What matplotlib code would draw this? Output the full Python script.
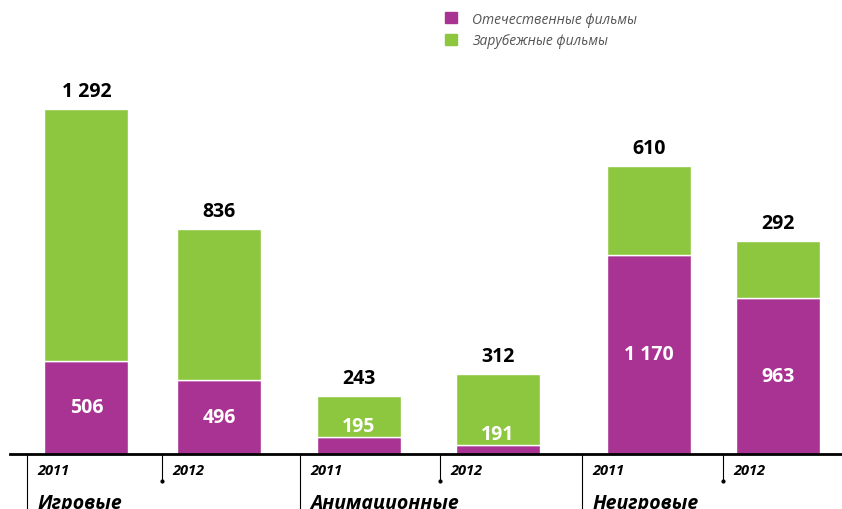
import numpy as np
import matplotlib
matplotlib.use('Agg')
import matplotlib.pyplot as plt
from matplotlib.patches import Patch
from matplotlib.transforms import blended_transform_factory

plt.rcParams['font.family'] = ['Open Sans', 'DejaVu Sans']

# Data
categories = ['Игровые', 'Анимационные', 'Неигровые']
years = ['2011', '2012', '2011', '2012', '2011', '2012']
domestic_labels = ['506', '496', '195', '191', '1 170', '963']
foreign_labels = ['1 292', '836', '243', '312', '610', '292']
# segment heights as they appear on the picture
domestic = [512, 407, 94, 50, 1095, 858]
foreign = [1386, 830, 226, 390, 490, 314]

magenta = '#A93393'
green = '#8DC63F'

fig = plt.figure(figsize=(8.42, 5.10), dpi=100)
ax = fig.add_axes([0, 55 / 510, 1, 455 / 510])
ax.set_xlim(-0.625, 5.463)
ax.set_ylim(0, 2502)
ax.axis('off')

# bar positions (slightly uneven, as in the original layout)
x = np.array([0, 0.958, 1.97, 2.975, 4.067, 5.0])
seps = np.array([-0.43, 0.546, 1.544, 2.556, 3.583, 4.603])
w = 0.607
ax.bar(x, domestic, w, color=magenta, edgecolor='white', linewidth=1)
ax.bar(x, foreign, w, bottom=domestic, color=green, edgecolor='white', linewidth=1)

for i in range(len(x)):
    top = domestic[i] + foreign[i]
    ax.text(x[i], top + 45, foreign_labels[i], ha='center', va='bottom',
            fontsize=14, fontweight='bold', color='black')
    if domestic[i] < 150:
        y = domestic[i] + 58
    else:
        y = domestic[i] / 2
    ax.text(x[i], y, domestic_labels[i], ha='center', va='center',
            fontsize=14, fontweight='bold', color='white')

# baseline
ax.axhline(0, xmin=10 / 842, xmax=1, color='black', linewidth=2, clip_on=False)

trans = blended_transform_factory(ax.transData, ax.transAxes)
for i in range(len(x)):
    sx = seps[i]
    if i % 2 == 0:
        ax.plot([sx, sx], [0, -0.125], color='black', linewidth=0.8,
                transform=trans, clip_on=False)
        ax.text(sx + 0.075, -0.02, years[i], transform=trans, ha='left', va='top',
                fontsize=10.5, fontweight='bold', style='italic')
        ax.text(sx + 0.075, -0.085, categories[i // 2], transform=trans, ha='left',
                va='top', fontsize=14, fontweight='bold', style='italic')
    else:
        ax.plot([sx, sx], [0, -0.06], color='black', linewidth=0.8,
                transform=trans, clip_on=False)
        ax.plot([sx], [-0.06], marker='o', markersize=2, color='black',
                transform=trans, clip_on=False)
        ax.text(sx + 0.075, -0.02, years[i], transform=trans, ha='left', va='top',
                fontsize=10.5, fontweight='bold', style='italic')

handles = [Patch(color=magenta), Patch(color=green)]
leg = fig.legend(handles, ['Отечественные фильмы', 'Зарубежные фильмы'],
                 loc='upper left', bbox_to_anchor=(432 / 842, 1 - 0 / 510),
                 frameon=False, handlelength=0.9, handleheight=0.9,
                 handletextpad=1.1, labelspacing=0.5,
                 prop={'style': 'italic', 'size': 10})
for t in leg.get_texts():
    t.set_color('#555555')

fig.savefig('out.png', dpi=100)
